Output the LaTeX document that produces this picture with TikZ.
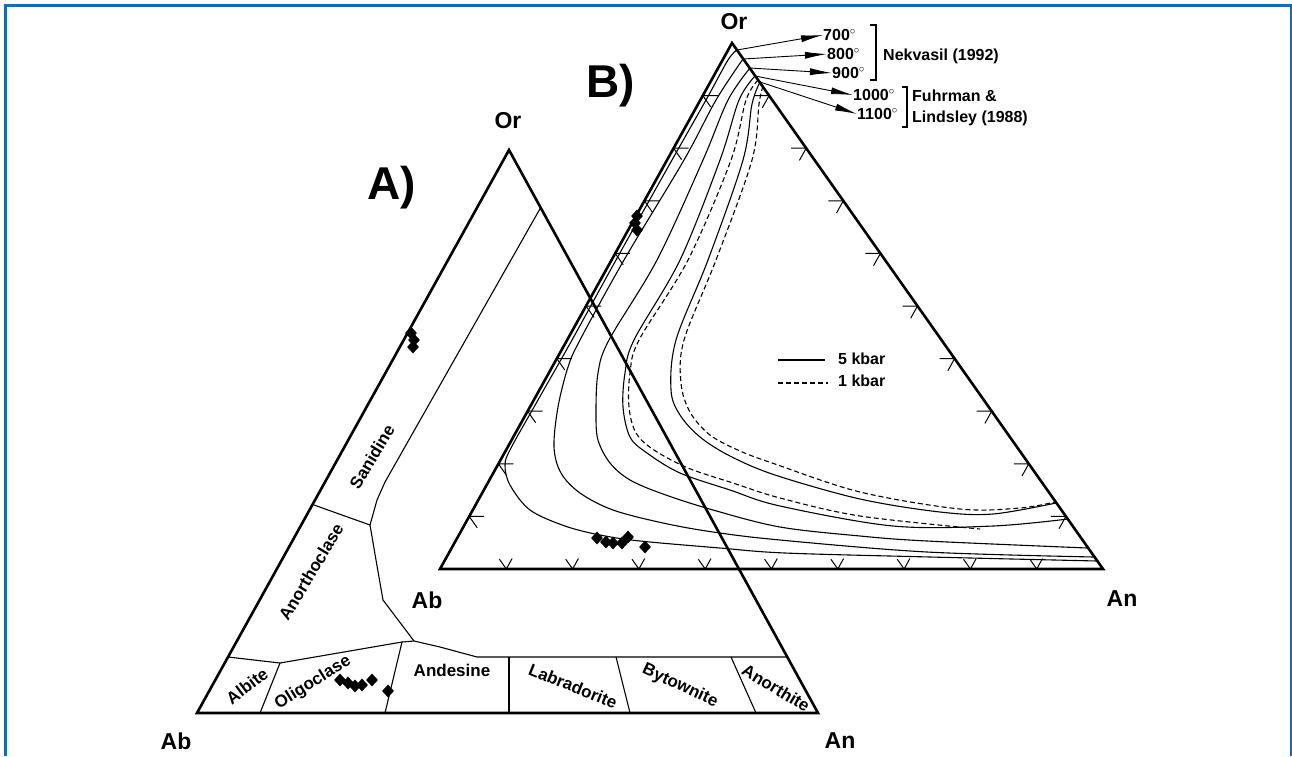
\documentclass[tikz,border=0pt]{standalone}
\usepackage{fontspec}
\setmainfont{Liberation Sans}
\usetikzlibrary{shapes.geometric,arrows.meta}
\definecolor{frameblue}{RGB}{0,114,198}
\tikzset{
  edge/.style={line width=2.6pt},
  field/.style={line width=1.1pt},
  solvus/.style={line width=1.1pt},
  lowp/.style={solvus, dash pattern=on 5pt off 3pt},
  gridtick/.style={line width=1pt},
  sample/.style={diamond, fill=black, inner sep=0pt, minimum width=12pt, minimum height=13pt},
  apex/.style={font=\bfseries\fontsize{23}{25}\selectfont, inner sep=0pt},
  panel/.style={font=\bfseries\fontsize{46}{50}\selectfont, inner sep=0pt},
  mineral/.style={font=\bfseries\fontsize{17}{19}\selectfont, inner sep=0pt},
  note/.style={font=\bfseries\fontsize{16}{18}\selectfont, inner sep=0pt, anchor=west},
  tarrow/.style={line width=0.9pt, -{Latex[length=22pt,width=7pt]}},
}
\begin{document}
\begin{tikzpicture}[x=1pt,y=-1pt]
	\useasboundingbox (0,0) rectangle (1292,756);
	% Draw the frame
	\draw[frameblue, line width=2.8pt] (5.3,756) -- (5.3,5.3) -- (1291.5,5.3) -- (1291.5,756);

	% Corners of the two triangles
	\coordinate (aAb) at (197,713);
	\coordinate (aOr) at (509,150);
	\coordinate (aAn) at (818,713);
	\coordinate (bAb) at (440,569);
	\coordinate (bOr) at (732,43);
	\coordinate (bAn) at (1103,569);

	% Draw the feldspar fields of A
	\draw[field] (541,207) -- (385,482) -- (377,500) -- (370,525) -- (376,560) -- (383,600) -- (414,641);
	\draw[field] (314,505) -- (370,525);
	\draw[field] (228,657) -- (280,663) -- (402,642) -- (414,641) -- (440,647) -- (477,657) -- (787,657);
	\draw[field] (280,663) -- (260,713);
	\draw[field] (402,642) -- (385,713);
	\draw[field] (509,657) -- (509,713);
	\draw[field] (616,657) -- (630,713);
	\draw[field] (731,657) -- (756,713);

	% Draw the solvus curves of B
	\draw[solvus] plot[smooth, tension=0.55] coordinates {(737,50) (728,60) (706,100) (672,160) (616,260) (572,340) (538,400) (511,448) (505,465) (510,485) (530,510) (565,526) (600,535) (640,541) (720,548) (785,553) (930,557) (1097,561)};
	\draw[solvus] plot[smooth, tension=0.55] coordinates {(743,59) (716,100) (684,160) (624,260) (580,340) (568,367) (558,407) (554,447) (561,473) (580,493) (613,510) (663,523) (713,532) (780,540) (927,552) (1094,557)};
	\draw[solvus] plot[smooth, tension=0.55] coordinates {(750,68) (728,100) (703,160) (657,260) (609,340) (598,373) (596,413) (598,440) (610,463) (630,480) (663,494) (713,510) (780,527) (860,536) (927,541) (1087,548)};
	\draw[solvus] plot[smooth, tension=0.55] coordinates {(755,76) (739,100) (720,160) (680,260) (634,340) (625,373) (623,407) (630,437) (647,453) (680,473) (730,490) (780,506) (893,526) (993,526) (1068,519)};
	\draw[lowp] plot[smooth, tension=0.55] coordinates {(758,80) (746,100) (731,160) (688,260) (639,340) (630,373) (629,407) (636,433) (654,450) (688,468) (733,483) (780,498) (860,516) (980,529)};
	\draw[solvus] plot[smooth, tension=0.55] coordinates {(760,82) (752,104) (743,160) (708,260) (676,340) (671,390) (680,415) (700,437) (730,456) (775,475) (860,499) (940,512) (993,514) (1056,503)};
	\draw[lowp] plot[smooth, tension=0.55] coordinates {(763,86) (759,104) (752,160) (716,260) (684,340) (681,383) (690,412) (710,435) (740,451) (775,464) (860,492) (960,509) (1020,508) (1055,502)};

	% Draw the triangles
	\draw[edge] (aAb) -- (aOr) -- (aAn) -- cycle;
	\draw[edge] (bAb) -- (bOr) -- (bAn) -- cycle;

	% Grid ticks on the edges of B
	\foreach \k in {1,...,9} {
		\draw[gridtick] ({455+29.2*\k},{569-52.6*\k}) -- ({440+29.2*\k},{569-52.6*\k}) -- ++(8,11.4);
		\draw[gridtick] ({1088-37.1*\k},{569-52.6*\k}) -- ({1103-37.1*\k},{569-52.6*\k}) -- ++(-6.8,12.2);
		\draw[gridtick] ({433.1+66.3*\k},559.2) -- ({440+66.3*\k},569) -- ++(5.8,-10.5);
	}

	% Start points of the curves
	\coordinate (s700) at (737,50);
	\coordinate (s800) at (743,59);
	\coordinate (s900) at (750,68);
	\coordinate (s1000) at (755,76);
	\coordinate (s1100) at (760,82);

	% Label the temperatures
	\node[note] (t700) at (823,35) {700$^{\circ}$};
	\node[note] (t800) at (827,54) {800$^{\circ}$};
	\node[note] (t900) at (832,73) {900$^{\circ}$};
	\node[note] (t1000) at (853,95) {1000$^{\circ}$};
	\node[note] (t1100) at (857,114) {1100$^{\circ}$};
	\draw[tarrow] (s700) -- (t700.west);
	\draw[tarrow] (s800) -- (t800.west);
	\draw[tarrow] (s900) -- (t900.west);
	\draw[tarrow] (s1000) -- (t1000.west);
	\draw[tarrow] (s1100) -- (t1100.west);
	\draw[field] (870,25) -- (876,25) -- (876,80) -- (870,80);
	\draw[field] (902,87) -- (907,87) -- (907,127) -- (902,127);
	\node[note] (nek) at (883,56) {Nekvasil (1992)};
	\node[note] (fuh) at (912,96) {Fuhrman \&};
	\node[note] (lin) at (912,118) {Lindsley (1988)};

	% Legend
	\draw[solvus] (778,360) -- (825,360);
	\draw[lowp] (778,383) -- (828,383);
	\node[note] (k5) at (838,359) {5 kbar};
	\node[note] (k1) at (838,381) {1 kbar};

	% Samples
	\foreach \x/\y [count=\i] in {411/333, 414/340, 413/347}
		\node[sample] (sa\i) at (\x,\y) {};
	\foreach \x/\y [count=\i] in {340/680, 348/683, 355/686, 362/685, 372/680, 388/691}
		\node[sample] (sb\i) at (\x,\y) {};
	\foreach \x/\y [count=\i] in {637/216, 635/223, 637/230}
		\node[sample] (sc\i) at (\x,\y) {};
	\foreach \x/\y [count=\i] in {597/538, 606/542, 613/543, 622/543, 628/537, 645/547}
		\node[sample] (sd\i) at (\x,\y) {};

	% Label the minerals
	\node[mineral, rotate=59] (san) at (372,457) {Sanidine};
	\node[mineral, rotate=59] (ano) at (311,572) {Anorthoclase};
	\node[mineral, rotate=37] (alb) at (247,686) {Albite};
	\node[mineral, rotate=32] (oli) at (313,683) {Oligoclase};
	\node[mineral] (and) at (452,670) {Andesine};
	\node[mineral, rotate=-22] (lab) at (573,686) {Labradorite};
	\node[mineral, rotate=-25] (byt) at (680,686) {Bytownite};
	\node[mineral, rotate=-31] (ant) at (776,688) {Anorthite};

	% Label the corners
	\node[apex] (aOrl) at (508,121) {Or};
	\node[apex] (aAbl) at (176,741) {Ab};
	\node[apex] (aAnl) at (840,741) {An};
	\node[apex] (bOrl) at (734,22) {Or};
	\node[apex] (bAbl) at (427,600) {Ab};
	\node[apex] (bAnl) at (1122,599) {An};
	\node[panel] (pA) at (392,188) {A)};
	\node[panel] (pB) at (611,86) {B)};
\end{tikzpicture}
\end{document}
